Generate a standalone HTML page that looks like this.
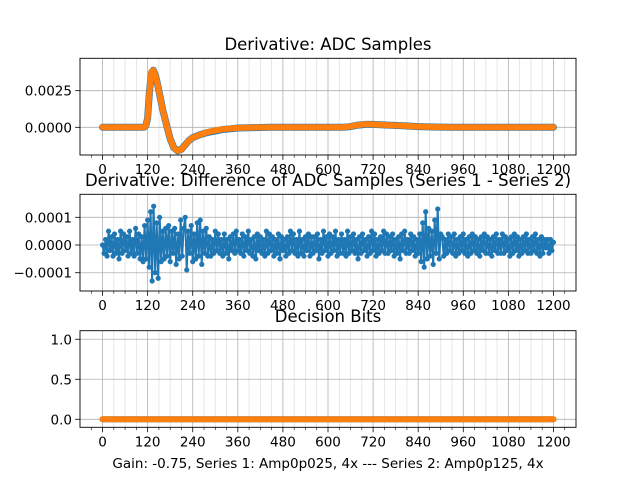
<!DOCTYPE html>
<html><head><meta charset="utf-8"><style>
body{margin:0;background:#fff;}
svg text{font-family:"DejaVu Sans","Liberation Sans",sans-serif;fill:#000;}
</style></head><body>
<svg id="fig" width="640" height="480" xmlns="http://www.w3.org/2000/svg"></svg>
<script>
// ---- data ----
const adcX = [0,20,40,60,80,100,110,115,120,125,130,135,140,145,150,160,170,180,190,200,210,220,230,240,260,280,300,320,340,360,400,450,500,550,600,640,660,680,700,720,740,760,800,840,880,920,1000,1100,1200];
const adcS1 = [0,0,0,0,0,0,0,1,6,25,37,39,36,31,25,12,2,-8,-14,-16,-15,-12,-9,-7,-5,-3.5,-2.5,-1.5,-1,-0.5,-0.2,0,0,0,0,0,0.5,1.5,2,2,1.8,1.5,1,0.5,0.2,0,0,0,0]; // x1e-4
const adcS2 = [0,0,0,0,0,0,0,1,6,25,38,39,36,31,25,12,2,-8,-14,-16,-15,-12,-9,-7,-5,-3.2,-2.2,-1.3,-0.8,-0.4,-0.1,0,0,0,0,0,0.6,1.6,2.1,2,1.8,1.5,1,0.5,0.2,0,0,0,0];
const diffStep = 4;
const diffVals = [0,-3,2,-4,5,-2,3,-4,4,-3,2,-5,5,-3,4,-2,3,-4,5,-3,2,-4,6,-3,4,-5,
3,-6,7,-5,9,-8,12,-13,14,-10,8,-12,10,-6,5,
-5,6,-4,7,-6,5,-3,6,-7,4,-5,9,-4,6,10,-9,5,-3,7,-6,4,-5,8,-4,9,-7,5,-3,6,-4,
3,-4,2,-3,5,-2,4,-3,2,-4,
4,-3,2,-5,3,-2,4,-3,5,-2,
2,-3,4,-4,3,-2,5,-3,2,-4,
3,-5,4,-2,3,-3,2,-4,5,-3,
4,-2,3,-4,2,-3,4,-5,3,-2,
2,-4,3,-3,5,-2,4,-3,2,-4,
5,-3,2,-4,3,-2,4,-4,3,-3,
3,-2,4,-5,2,-3,5,-2,3,-4,
4,-3,3,-2,5,-4,2,-3,4,-3,
2,-4,5,-3,3,-2,4,-3,2,-5,
3,-3,4,-2,2,-4,3,-3,5,-2,
4,-4,2,-3,3,-2,5,-3,4,-3,
3,-2,4,-4,2,-3,3,-5,4,-2,
5,-3,2,-3,4,-2,3,-4,2,-3,
4,-6,8,-8,12,-5,6,-4,5,-7,9,-3,13,-5,4,
3,-4,2,-3,4,-2,3,-3,4,-4,
2,-3,3,-2,4,-3,2,-4,3,-3,
4,-2,3,-3,2,-4,3,-2,4,-3,
3,-3,2,-4,3,-2,4,-3,2,-3,
4,-3,3,-2,2,-4,3,-3,4,-2,
3,-4,2,-3,3,-2,4,-3,2,-3,
3,-2,4,-3,2,-4,3,-3,2,-1,
2,-3,2,-2,1]; // x1e-5
const bitX = [0,100,200,300,400,500,600,700,800,900,1000,1100,1200];
const bitS1 = [0,0,0,0,0,0,0,0,0,0,0,0,0];
const bitS2 = [0,0,0,0,0,0,0,0,0,0,0,0,0];
const xTicks = [0,120,240,360,480,600,720,840,960,1080,1200];

const NS="http://www.w3.org/2000/svg", fig=document.getElementById('fig');
function el(t,a,p){const e=document.createElementNS(NS,t);for(const k in a)e.setAttribute(k,a[k]);(p||fig).appendChild(e);return e;}
const L=80,R=576;
const xs=v=>L+(v+60)/1320*(R-L);
function axes(name,top,bot,ymin,ymax,yt,ylab,title,titleY){
  const g=el('g',{});
  
  
  const ys=v=>bot-(v-ymin)/(ymax-ymin)*(bot-top);
  for(let v=0;v<=1230;v+=30){if(v%120)el('line',{x1:xs(v),x2:xs(v),y1:top,y2:bot,stroke:'#e0e0e0','stroke-width':0.8},g);}
  for(const v of xTicks)el('line',{x1:xs(v),x2:xs(v),y1:top,y2:bot,stroke:'#b0b0b0','stroke-width':0.8},g);
  for(const v of yt)el('line',{x1:L,x2:R,y1:ys(v),y2:ys(v),stroke:'#b0b0b0','stroke-width':0.8},g);
  for(let v=-30;v<=1230;v+=30){if(v%120)el('line',{x1:xs(v),x2:xs(v),y1:bot,y2:bot+2.8,stroke:'#000','stroke-width':0.6},g);}
  for(const v of xTicks){el('line',{x1:xs(v),x2:xs(v),y1:bot,y2:bot+4.9,stroke:'#000','stroke-width':0.8},g);
    const t=el('text',{x:xs(v),y:bot+19,'font-size':13.5,'text-anchor':'middle'},g);t.textContent=v;
    }
  yt.forEach((v,i)=>{el('line',{x1:L-4.9,x2:L,y1:ys(v),y2:ys(v),stroke:'#000','stroke-width':0.8},g);
    const t=el('text',{x:L-8,y:ys(v)+5,'font-size':13.5,'text-anchor':'end'},g);t.textContent=ylab[i];
    });
  const tt=el('text',{x:(L+R)/2,y:titleY,'font-size':16.5,'text-anchor':'middle'});tt.textContent=title;
  
  return {g,ys,top,bot};
}
function frame(a){el('rect',{x:L,y:a.top,width:R-L,height:a.bot-a.top,fill:'none',stroke:'#000','stroke-width':0.9});}
function series(a,xsArr,ys,col,w,name,dots,r){
  const d=xsArr.map((x,i)=>(i?'L':'M')+xs(x).toFixed(1)+','+a.ys(ys[i]).toFixed(1)).join('');
  const p=el('path',{d,fill:'none',stroke:col,'stroke-width':w,'stroke-linejoin':'round','stroke-linecap':'round'},a.g);
  
  if(dots)xsArr.forEach((x,i)=>{const c=el('circle',{cx:xs(x),cy:a.ys(ys[i]),r:r,fill:col},a.g);
    });
}
// plot 1
const a1=axes('adc-samples-plot',58.3,155,-0.00189,0.00471,[0,0.0025],['0.0000','0.0025'],'Derivative: ADC Samples',50);
series(a1,adcX,adcS1.map(v=>v*1e-4),'#1f77b4',7,'series-1-adc',false);
series(a1,adcX,adcS2.map(v=>v*1e-4),'#ff7f0e',6,'series-2-adc',false);
frame(a1);
// plot 2
const a2=axes('difference-plot',194.3,291,-0.000166,0.000183,[-0.0001,0,0.0001],['\u22120.0001','0.0000','0.0001'],'Derivative: Difference of ADC Samples (Series 1 - Series 2)',186);
const dX=diffVals.map((v,i)=>i*diffStep);
series(a2,dX,diffVals.map(v=>v*1e-5),'#1f77b4',2,'difference-series',true,2.6);
frame(a2);
// plot 3
const a3=axes('decision-bits-plot',330.7,427.3,-0.1,1.107,[0,0.5,1],['0.0','0.5','1.0'],'Decision Bits',322);
series(a3,bitX,bitS1,'#1f77b4',6,'series-1-bits',false);
series(a3,bitX,bitS2,'#ff7f0e',6,'series-2-bits',false);
frame(a3);
const xl=el('text',{x:(L+R)/2,y:468,'font-size':13.5,'text-anchor':'middle'});
xl.textContent='Gain: -0.75, Series 1: Amp0p025, 4x --- Series 2: Amp0p125, 4x';


</script>
</body></html>
